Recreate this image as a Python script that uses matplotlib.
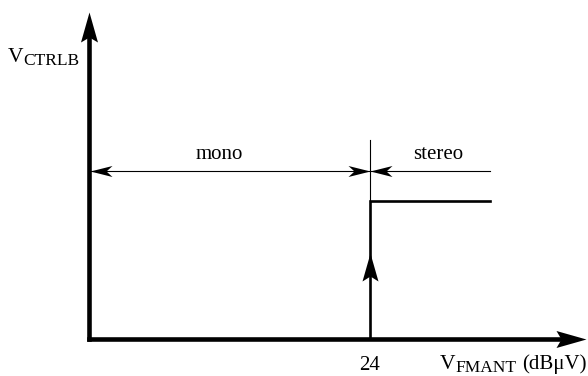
import matplotlib
matplotlib.use("Agg")
import matplotlib.pyplot as plt
from matplotlib.path import Path

# ---- data ----
threshold = 24            # dBuV, mono/stereo switching point
step_x = [24, 24, 34.25]  # V_CTRLB step
step_y = [0, 1, 1]
region_y = 1.217          # level of mono/stereo dimension line
region_x_end = 34.25
tick_top = 1.438
arrow_tip_y = 0.62        # arrow on the step line
xaxis_end = 42.45
yaxis_end = 2.366
labels_region = ["mono", "stereo"]
tick_labels = ["24"]

# ---- scale (pixel layout) ----
X0, SX = 89.0, 11.708
Y0, SY = 338.5, 138.0
W, H = 588, 376

def px(xp, yp):
    return ((xp - X0) / SX, (Y0 - yp) / SY)

fig = plt.figure(figsize=(W / 100, H / 100), dpi=100)
ax = fig.add_axes([0, 0, 1, 1])
ax.set_xlim((0 - X0) / SX, (W - X0) / SX)
ax.set_ylim((Y0 - H) / SY, Y0 / SY)
ax.axis("off")

FONT = "Liberation Serif"

def head(length, half, notch, direction):
    if direction == "up":
        v = [(0, 0), (-half, -length), (0, -length + notch), (half, -length), (0, 0)]
    elif direction == "right":
        v = [(0, 0), (-length, half), (-length + notch, 0), (-length, -half), (0, 0)]
    else:  # left
        v = [(0, 0), (length, half), (length - notch, 0), (length, -half), (0, 0)]
    codes = [Path.MOVETO, Path.LINETO, Path.LINETO, Path.LINETO, Path.CLOSEPOLY]
    return Path(v, codes), 2 * length * 0.72

# axes
ax.plot([0, 0], [0, yaxis_end - 0.15], color="k", lw=3.3, solid_capstyle="projecting")
ax.plot([0, xaxis_end - 2.0], [0, 0], color="k", lw=3.3, solid_capstyle="projecting")
p, ms = head(30, 8.5, 5, "up")
ax.plot([0], [yaxis_end], marker=p, markersize=ms, color="k", mec="k", mew=0)
p, ms = head(30, 8.5, 5, "right")
ax.plot([xaxis_end], [0], marker=p, markersize=ms, color="k", mec="k", mew=0)

# step curve
ax.plot(step_x, step_y, color="k", lw=1.9, solid_joinstyle="miter")
p, ms = head(28, 8, 5, "up")
ax.plot([threshold], [arrow_tip_y], marker=p, markersize=ms, color="k", mec="k", mew=0)

# dimension line and tick
ax.plot([0, region_x_end], [region_y, region_y], color="k", lw=0.8)
ax.plot([threshold, threshold], [1, tick_top], color="k", lw=0.8)
p, ms = head(22, 5.5, 6, "left")
ax.plot([0.05], [region_y], marker=p, markersize=ms, color="k", mec="k", mew=0)
ax.plot([threshold], [region_y], marker=p, markersize=ms, color="k", mec="k", mew=0)
p, ms = head(22, 5.5, 6, "right")
ax.plot([threshold], [region_y], marker=p, markersize=ms, color="k", mec="k", mew=0)

# region labels
ax.text(*px(219.5, 159), labels_region[0], family=FONT, fontsize=15, ha="center", va="baseline")
ax.text(*px(438, 159), labels_region[1], family=FONT, fontsize=15, ha="center", va="baseline")

# tick label
ax.text(threshold, (Y0 - 370) / SY, tick_labels[0], family=FONT, fontsize=15, ha="center", va="baseline")

# axis labels
ax.text(*px(7.5, 62), "V", family=FONT, fontsize=15.5, ha="left", va="baseline")
ax.text(*px(23.5, 65), "CTRLB", family=FONT, fontsize=12.5, ha="left", va="baseline")
ax.text(*px(439.5, 369), "V", family=FONT, fontsize=15.5, ha="left", va="baseline")
ax.text(*px(455.5, 372), "FMANT", family=FONT, fontsize=12.5, ha="left", va="baseline")
ax.text(*px(522.5, 369), "(dBμV)", family=FONT, fontsize=15, ha="left", va="baseline")

fig.savefig("out.png", dpi=100)
